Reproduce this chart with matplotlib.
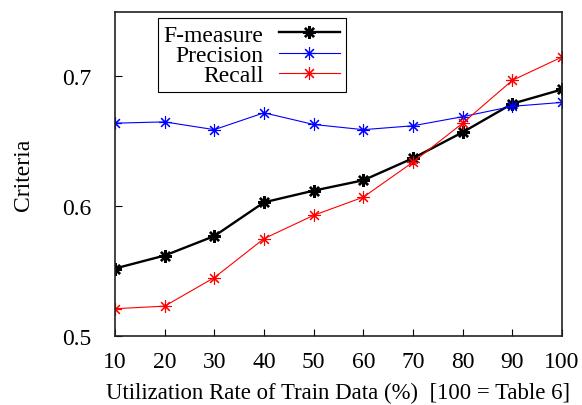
import matplotlib
matplotlib.use('Agg')
import matplotlib.pyplot as plt

plt.rcParams['font.family'] = ['Liberation Serif', 'DejaVu Serif']

# Datos
tasa = [10, 20, 30, 40, 50, 60, 70, 80, 90, 100]
f_measure = [0.552, 0.562, 0.577, 0.603, 0.612, 0.620, 0.637, 0.657, 0.679, 0.690]
precision = [0.664, 0.665, 0.659, 0.672, 0.663, 0.659, 0.662, 0.669, 0.677, 0.680]
recall = [0.521, 0.523, 0.545, 0.575, 0.593, 0.607, 0.634, 0.664, 0.697, 0.715]

asterisco = (8, 2, 0)

fig = plt.figure(figsize=(5.82, 4.06), dpi=100)
ax = fig.add_axes([0.1976, 0.170, 0.768, 0.799])

ax.plot(tasa, f_measure, color='black', lw=1.7, marker=asterisco, ms=9,
        mew=1.7, label='F-measure')
ax.plot(tasa, precision, color='#0000ff', lw=0.8, marker=asterisco, ms=9,
        mew=0.8, label='Precision')
ax.plot(tasa, recall, color='#ff0000', lw=0.8, marker=asterisco, ms=9,
        mew=0.8, label='Recall')

ax.set_xlim(10, 100)
ax.set_ylim(0.5, 0.75)
ax.set_xticks(tasa)
ax.set_yticks([0.5, 0.6, 0.7])
ax.set_yticklabels(['0.5', '0.6', '0.7'])
ax.tick_params(direction='in', length=5, width=0.8, labelsize=17,
               top=False, right=False)
ax.tick_params(axis='x', pad=11)
ax.tick_params(axis='y', pad=17)
for s in ax.spines.values():
    s.set_linewidth(1.2)
    s.set_color('#222222')

ax.set_xlabel('Utilization Rate of Train Data (%)  [100 = Table 6]',
              fontsize=16.4, labelpad=7)
ax.set_ylabel('Criteria', fontsize=17, labelpad=20)

leg = ax.legend(loc='upper right', bbox_to_anchor=(0.517, 0.98),
                markerfirst=False, fontsize=17, handlelength=2.6,
                handletextpad=0.65, labelspacing=-0.05, borderpad=0.25,
                borderaxespad=0, fancybox=False, framealpha=1)
leg.get_frame().set_edgecolor('black')
leg.get_frame().set_linewidth(0.8)

fig.savefig('out.png', dpi=100)
